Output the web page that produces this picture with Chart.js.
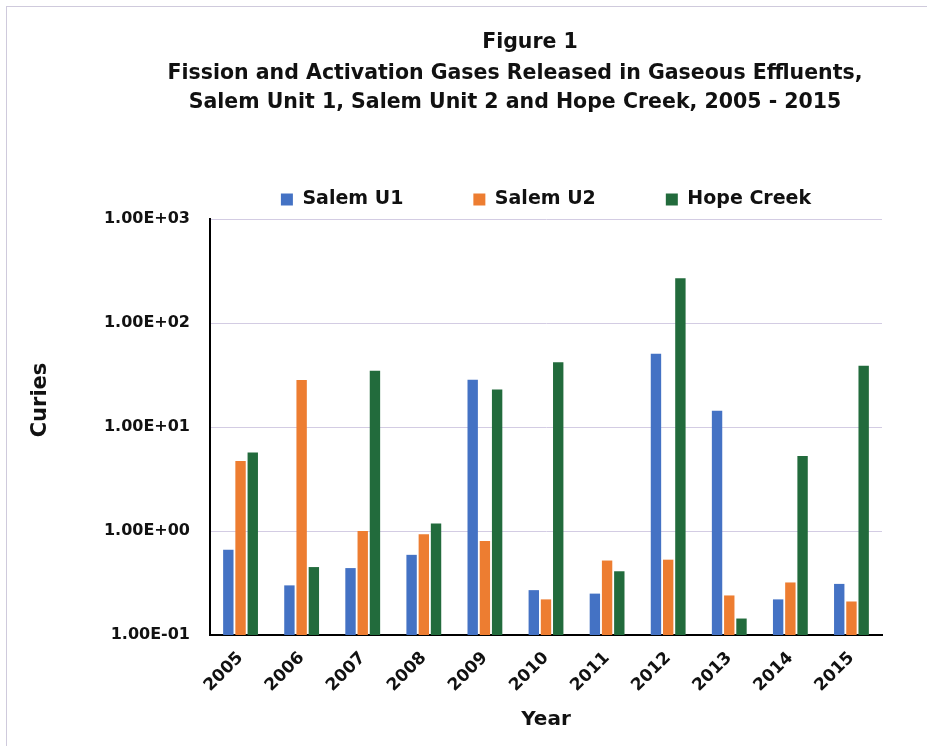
<!DOCTYPE html>
<html>
<head>
<meta charset="utf-8">
<title>Figure 1</title>
<script src="https://cdn.jsdelivr.net/npm/chart.js@4.4.1/dist/chart.umd.min.js"></script>
<style>
    html, body { margin: 0; padding: 0; background: #fff; }
    #wrap { position: relative; width: 927px; height: 746px; overflow: hidden; }
    #frame {
        position: absolute; left: 6px; top: 6px; width: 930px; height: 800px;
        border-left: 1px solid #cfcadc; border-top: 1px solid #cfcadc;
    }
    canvas { position: absolute; left: 0; top: 0; }
</style>
</head>
<body>
<div id="wrap">
    <div id="frame"></div>
    <canvas id="effluentChart" width="927" height="746"></canvas>
</div>
<script>
const years = ["2005", "2006", "2007", "2008", "2009", "2010", "2011", "2012", "2013", "2014", "2015"];
const salemU1 = [0.66, 0.30, 0.44, 0.59, 28.5, 0.27, 0.25, 50.5, 14.3, 0.22, 0.31];
const salemU2 = [4.7, 28.3, 1.0, 0.93, 0.80, 0.22, 0.52, 0.53, 0.24, 0.32, 0.21];
const hopeCreek = [5.7, 0.45, 34.8, 1.18, 23.0, 41.9, 0.41, 269, 0.144, 5.26, 38.9];
const yTicks = [0.1, 1, 10, 100, 1000];
const titleLines = [
    "Figure 1",
    "Fission and Activation Gases Released in Gaseous Effluents,",
    "Salem Unit 1, Salem Unit 2 and Hope Creek, 2005 - 2015"
];
const yAxisTitle = "Curies";

const FONT = "'DejaVu Sans', 'Liberation Sans', Arial, sans-serif";

// 1.00E+03 style labels
function sciLabel(v) {
    const e = Math.round(Math.log10(v));
    const sign = e < 0 ? "-" : "+";
    return "1.00E" + sign + String(Math.abs(e)).padStart(2, "0");
}

// figure title and the y axis title (sits above the axis centre in the original)
const titlePlugin = {
    id: "figureTitle",
    afterDraw(chart) {
        const ctx = chart.ctx;
        ctx.save();
        ctx.fillStyle = "#111";
        ctx.textAlign = "center";
        ctx.textBaseline = "middle";
        ctx.font = "bold 20.5px " + FONT;
        ctx.fillText(titleLines[0], 530, 43);
        ctx.fillText(titleLines[1], 515, 74);
        ctx.fillText(titleLines[2], 515, 103);

        ctx.translate(41, 400);
        ctx.rotate(-Math.PI / 2);
        ctx.font = "bold 21px " + FONT;
        ctx.fillText(yAxisTitle, 0, 0);
        ctx.restore();
    }
};

new Chart(document.getElementById("effluentChart"), {
    type: "bar",
    data: {
        labels: years,
        datasets: [
            { label: "Salem U1", data: salemU1, backgroundColor: "#4472C4" },
            { label: "Salem U2", data: salemU2, backgroundColor: "#ED7D31" },
            { label: "Hope Creek", data: hopeCreek, backgroundColor: "#226B3C" }
        ]
    },
    options: {
        responsive: false,
        animation: false,
        categoryPercentage: 0.6,
        barPercentage: 0.85,
        layout: {
            padding: { top: 120, left: 24, right: 45, bottom: 10 }
        },
        plugins: {
            legend: {
                position: "top",
                fullSize: false,
                labels: {
                    boxWidth: 12,
                    boxHeight: 12,
                    padding: 70,
                    color: "#111",
                    font: { family: FONT, size: 19, weight: "bold" }
                }
            },
            tooltip: { enabled: false }
        },
        scales: {
            x: {
                grid: { display: false, drawTicks: false },
                border: { display: true, color: "#000", width: 2 },
                ticks: {
                    minRotation: 45,
                    maxRotation: 45,
                    padding: 13,
                    color: "#111",
                    font: { family: FONT, size: 17, weight: "bold" }
                },
                title: {
                    display: true,
                    text: "Year",
                    color: "#111",
                    font: { family: FONT, size: 20, weight: "bold" }
                },
                afterFit(scale) { scale.height = 101; }
            },
            y: {
                type: "logarithmic",
                min: 0.1,
                max: 1000,
                grid: { color: "#d3cce3", lineWidth: 1, drawTicks: false },
                border: { display: true, color: "#000", width: 2 },
                afterBuildTicks(scale) {
                    scale.ticks = yTicks.map(v => ({ value: v }));
                },
                ticks: {
                    padding: 20,
                    color: "#111",
                    font: { family: FONT, size: 16, weight: "bold" },
                    callback: function(value) {
                        return sciLabel(value);
                    }
                },
                afterFit(scale) { scale.width = 186; }
            }
        }
    },
    plugins: [titlePlugin]
});
</script>
</body>
</html>
